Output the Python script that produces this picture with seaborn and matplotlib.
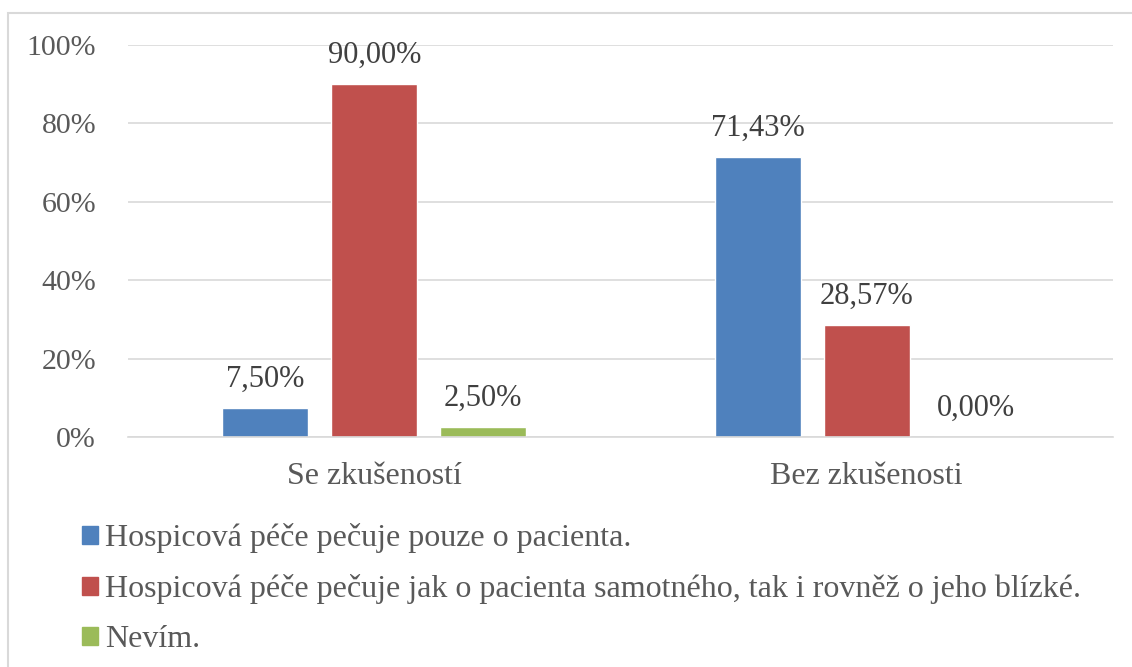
import matplotlib
matplotlib.use("Agg")
import matplotlib.pyplot as plt
import matplotlib.patches as mpatches
import pandas as pd
import seaborn as sns

groups = ["Se zkušeností", "Bez zkušenosti"]
answers = [
    "Hospicová péče pečuje pouze o pacienta.",
    "Hospicová péče pečuje jak o pacienta samotného, tak i rovněž o jeho blízké.",
    "Nevím.",
]
se_zkusenosti = [0.075, 0.90, 0.025]
bez_zkusenosti = [0.7143, 0.2857, 0.0]
colors = ["#4F81BD", "#C0504D", "#9BBB59"]
yticks = [0, 0.2, 0.4, 0.6, 0.8, 1.0]

df = pd.DataFrame({
    "skupina": [groups[0]] * 3 + [groups[1]] * 3,
    "odpoved": answers * 2,
    "podil": se_zkusenosti + bez_zkusenosti,
})

sns.set_theme(style="white")
plt.rcParams["font.family"] = ["Liberation Serif", "DejaVu Serif"]

fig = plt.figure(figsize=(11.32, 6.67), dpi=100)
ax = fig.add_axes([128 / 1132, 1 - 437 / 667, 985 / 1132, 392 / 667])

sns.barplot(data=df, x="skupina", y="podil", hue="odpoved", hue_order=answers,
            palette=colors, width=0.664, gap=0.21, saturation=1, ax=ax,
            legend=False)

ax.set_ylim(0, 1)
ax.set_xlim(-0.5, 1.5)
ax.set_yticks(yticks)
ax.set_yticklabels([f"{int(round(t * 100))}%" for t in yticks])
ax.grid(axis="y", color="#D9D9D9", linewidth=1.2)
ax.set_axisbelow(True)
for s in ["top", "right", "left"]:
    ax.spines[s].set_visible(False)
ax.spines["bottom"].set_color("#D9D9D9")
ax.spines["bottom"].set_linewidth(1.2)
ax.set_xlabel("")
ax.set_ylabel("")
ax.tick_params(axis="y", labelsize=21.5, colors="#595959", length=0, pad=23)
ax.tick_params(axis="x", labelsize=23, colors="#595959", length=0, pad=18)

for cont in ax.containers:
    labels = [f"{v * 100:.2f}%".replace(".", ",") for v in cont.datavalues]
    ax.bar_label(cont, labels=labels, padding=10, fontsize=22, color="#404040")

handles = [mpatches.Patch(color=c) for c in colors]
fig.legend(handles, answers, loc="upper left", bbox_to_anchor=(82 / 1132, 1 - 523 / 667),
           frameon=False, fontsize=23, labelcolor="#595959", handlelength=0.5,
           handleheight=0.5, handletextpad=0.22, labelspacing=0.66, borderaxespad=0,
           borderpad=0)

fig.patches.append(mpatches.Rectangle((8 / 1132, -0.1), 1.2, 1 - 13 / 667 + 0.1,
                                      transform=fig.transFigure, fill=False,
                                      edgecolor="#D9D9D9", linewidth=1.5))

fig.savefig("out.png", dpi=100)
